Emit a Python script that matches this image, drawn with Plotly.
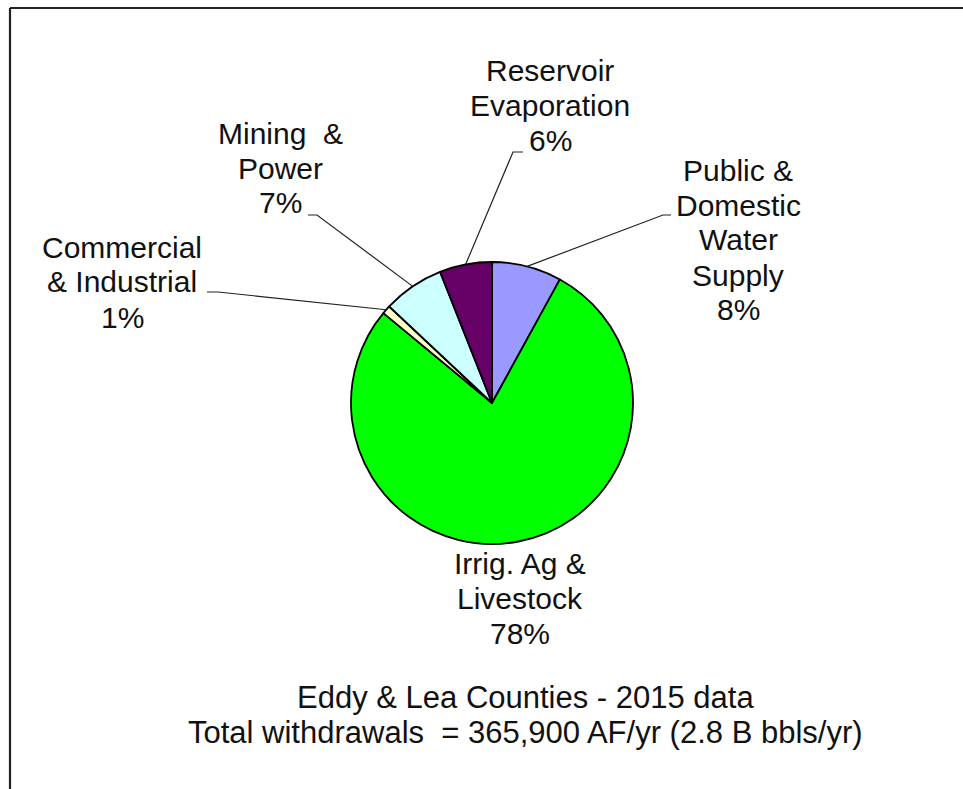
import math
import plotly.graph_objects as go

# Water withdrawals by use, Eddy & Lea Counties (2015), percent of total
categories = [
    "Public & Domestic Water Supply",
    "Irrig. Ag & Livestock",
    "Commercial & Industrial",
    "Mining & Power",
    "Reservoir Evaporation",
]
shares = [8, 78, 1, 7, 6]
label_lines = [
    ["Public &", "Domestic", "Water", "Supply"],
    ["Irrig. Ag &", "Livestock"],
    ["Commercial", "& Industrial"],
    ["Mining  &", "Power"],
    ["Reservoir", "Evaporation"],
]
slice_colors = ["#9999FF", "#00FF00", "#FFFFCC", "#CCFFFF", "#660066"]
title_lines = [
    "Eddy & Lea Counties - 2015 data",
    "Total withdrawals  = 365,900 AF/yr (2.8 B bbls/yr)",
]

W, H = 963, 789
FONT = "Liberation Sans, Arial, sans-serif"
FS = 30          # label font size
LINE_GAP = 35    # baseline-to-baseline spacing, px

# pie geometry in pixels
CX, CY, R = 492, 403, 141

# label placement: block centre, plus leader elbow/end points (None = no leader)
label_layout = [
    dict(x=738, y=240, elbow=(663, 215), end=(671, 215)),
    dict(x=520, y=598, elbow=None, end=None),
    dict(x=122, y=282, elbow=(218, 292), end=(207, 292)),
    dict(x=280, y=168, elbow=(317, 215), end=(308, 215)),
    dict(x=550, y=106, elbow=(513, 152), end=(523, 152)),
]


def px(x, y):
    return x / W, 1 - y / H


def text_block(lines, cx, cy, size):
    """One centred annotation per line, stacked with a fixed line gap."""
    out = []
    n = len(lines)
    for i, line in enumerate(lines):
        yy = cy + (i - (n - 1) / 2) * LINE_GAP
        ax, ay = px(cx, yy)
        out.append(dict(
            x=ax, y=ay, xref="paper", yref="paper", text=line, showarrow=False,
            xanchor="center", yanchor="middle", align="center",
            font=dict(family=FONT, size=size, color="#111111"),
        ))
    return out


fig = go.Figure(
    go.Pie(
        labels=categories,
        values=shares,
        sort=False,
        direction="clockwise",
        rotation=0,
        marker=dict(colors=slice_colors, line=dict(color="#000000", width=1.8)),
        textinfo="none",
        hoverinfo="skip",
        showlegend=False,
        domain=dict(
            x=[(CX - R) / W, (CX + R) / W],
            y=[1 - (CY + R) / H, 1 - (CY - R) / H],
        ),
    )
)

annotations = []
shapes = []
total = sum(shares)
cum = 0
for lines, share, pos in zip(label_lines, shares, label_layout):
    mid = (cum + share / 2) / total * 2 * math.pi
    cum += share
    annotations += text_block(lines + [f"{share}%"], pos["x"], pos["y"], FS)
    if pos["elbow"] is not None:
        sx = CX + R * math.sin(mid)
        sy = CY - R * math.cos(mid)
        ex, ey = pos["elbow"]
        tx, ty = pos["end"]
        p0, p1, p2 = px(sx, sy), px(ex, ey), px(tx, ty)
        shapes.append(dict(type="path", xref="paper", yref="paper",
                           path=f"M {p0[0]},{p0[1]} L {p1[0]},{p1[1]} L {p2[0]},{p2[1]}",
                           line=dict(color="#222222", width=1.2)))

annotations += text_block(title_lines, 525, 714.5, 31)

# outer frame (left and top edges)
fl, ft = px(10, 8)
shapes.append(dict(type="line", xref="paper", yref="paper", x0=fl, y0=ft, x1=fl, y1=-0.05,
                   line=dict(color="#222222", width=2.2)))
shapes.append(dict(type="line", xref="paper", yref="paper", x0=fl, y0=ft, x1=1.05, y1=ft,
                   line=dict(color="#222222", width=2.2)))

fig.update_layout(
    width=W, height=H,
    margin=dict(l=0, r=0, t=0, b=0),
    paper_bgcolor="white", plot_bgcolor="white",
    annotations=annotations, shapes=shapes,
)

fig.write_html("out.html", config={"displayModeBar": False})
